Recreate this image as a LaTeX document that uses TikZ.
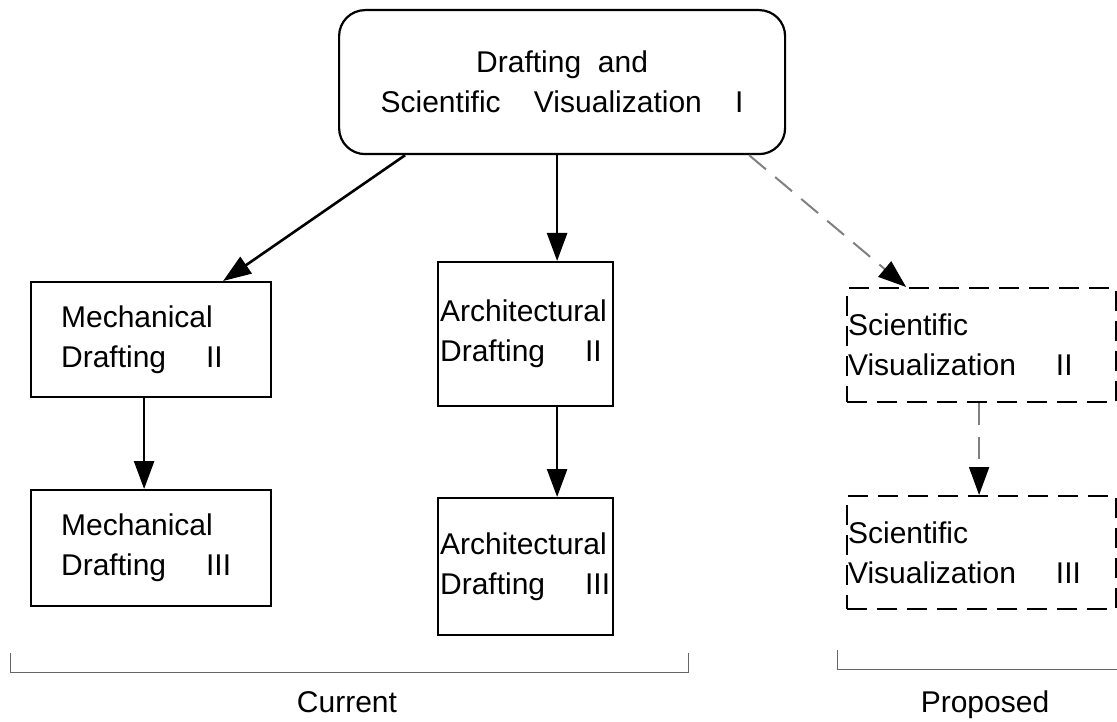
\documentclass[tikz,border=0pt]{standalone}
\usepackage{fontspec}
\setmainfont{Liberation Sans}
\usetikzlibrary{arrows.meta}
\begin{document}
\begin{tikzpicture}[x=1pt,y=-1pt,
  lbl/.style={font=\fontsize{30}{40}\selectfont},
  boxbase/.style={draw=black,line width=2.2pt,lbl,inner ysep=0pt,align=left,anchor=north west},
  solidbox/.style={boxbase},
  dashbox/.style={boxbase,dash pattern=on 20pt off 10pt},
  arr/.style={line width=2.6pt,-{Triangle[length=28pt,width=20pt]}},
  darr/.style={draw=gray,line width=2pt,dash pattern=on 22pt off 12pt,-{Triangle[length=28pt,width=20pt,fill=black,color=black]}},
  brk/.style={draw=gray!80!black,line width=1pt}]
\useasboundingbox (0,0) rectangle (1117,722);
% top box
\node[draw=black,line width=2.2pt,rounded corners=26pt,lbl,align=center,anchor=north west,
  minimum width=446pt,minimum height=144pt,inner sep=0pt] (top) at (338,9)
  {Drafting\ \ and\\Scientific\ \ \ \ Visualization\ \ \ \ I};
% left column
\node[solidbox,minimum width=240pt,minimum height=115pt,text width=180pt,inner xsep=30pt] (md2) at (30,281)
  {Mechanical\\Drafting\ \ \ \ II};
\node[solidbox,minimum width=240pt,minimum height=116pt,text width=180pt,inner xsep=30pt] (md3) at (30,489)
  {Mechanical\\Drafting\ \ \ \ III};
% middle column
\node[solidbox,minimum width=175pt,minimum height=144pt,text width=171pt,inner xsep=2pt] (ad2) at (437,261)
  {Architectural\\Drafting\ \ \ \ II};
\node[solidbox,minimum width=175pt,minimum height=137pt,text width=171pt,inner xsep=2pt] (ad3) at (437,497)
  {Architectural\\Drafting\ \ \ \ III};
% right column
\node[dashbox,minimum width=269pt,minimum height=114pt,text width=267pt,inner xsep=1pt] (sv2) at (846,287)
  {Scientific\\Visualization\ \ \ \ II};
\node[dashbox,minimum width=269pt,minimum height=113pt,text width=267pt,inner xsep=1pt] (sv3) at (846,495)
  {Scientific\\Visualization\ \ \ \ III};
% connectors
\draw[arr] ([xshift=-157pt]top.south) -- ([xshift=72pt]md2.north);
\draw[arr] ([xshift=-5pt]top.south) -- ([xshift=31.5pt]ad2.north);
\draw[darr] ([xshift=187pt]top.south) -- ([xshift=-75.5pt]sv2.north);
\draw[arr] ([xshift=-7pt]md2.south) -- ([xshift=-7pt]md3.north);
\draw[arr] ([xshift=31.5pt]ad2.south) -- ([xshift=31.5pt]ad3.north);
\draw[darr] ([xshift=-2.5pt]sv2.south) -- ([xshift=-2.5pt]sv3.north);
% brackets
\coordinate (c1) at (10,653);
\coordinate (c2) at (688,653);
\coordinate (p1) at (837,650);
\coordinate (p2) at (1117,650);
\draw[brk] (c1) -- ++(0,19) -| (c2);
\draw[brk] (p1) -- ++(0,19) -| (p2);
\node[lbl,anchor=base] (cur) at (347,712) {Current};
\node[lbl,anchor=base] (prop) at (985,712) {Proposed};
\end{tikzpicture}
\end{document}
